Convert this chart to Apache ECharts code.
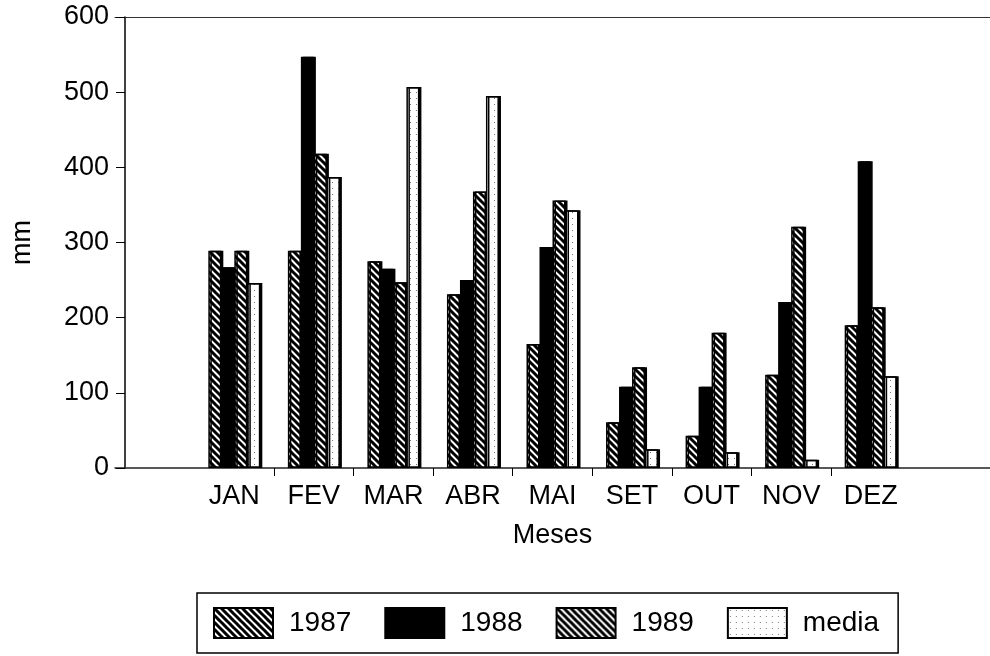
<!DOCTYPE html>
<html>
<head>
<meta charset="utf-8">
<script src="https://cdn.jsdelivr.net/npm/echarts@6/dist/echarts.min.js"></script>
<style>html,body{margin:0;padding:0;background:#fff;}#c{width:990px;height:656px;}</style>
</head>
<body>
<div id="c"></div>
<script>
const categories = ['JAN','FEV','MAR','ABR','MAI','SET','OUT','NOV','DEZ'];
const s1987 = [289,289,275,231,165,61,43,124,190];
const s1988 = [267,547,265,250,294,108,108,221,408];
const s1989 = [289,418,247,368,356,134,180,321,214];
const media = [246,387,507,495,343,25,21,11,122];
const yTickValues = [0,100,200,300,400,500,600];

function hatch(size, lw){
  const c = document.createElement('canvas');
  c.width = c.height = size;
  const g = c.getContext('2d');
  g.fillStyle = '#fff'; g.fillRect(0,0,size,size);
  g.strokeStyle = '#000'; g.lineWidth = lw;
  g.beginPath();
  for (const o of [-size, 0, size]) { g.moveTo(o-1, -1); g.lineTo(o+size+1, size+1); }
  g.stroke();
  return c;
}
function dots(){
  const c = document.createElement('canvas');
  c.width = c.height = 6;
  const g = c.getContext('2d');
  g.fillStyle = '#fff'; g.fillRect(0,0,6,6);
  g.fillStyle = '#777'; g.fillRect(2,2,1,1);
  return c;
}
const F = "'Liberation Sans', Arial, sans-serif";
const cats = [''].concat(categories, ['']);
const pad = a => [null].concat(a, [null]);

const baseStyle = {borderColor:'#000', borderWidth:1.5, shadowColor:'#000', shadowOffsetX:2, shadowOffsetY:0, shadowBlur:0};
function mk(name, data, color){
  return {name, type:'bar', data: pad(data), barWidth:13, barGap:'0%',
    itemStyle: Object.assign({color}, baseStyle)};
}
const chart = echarts.init(document.getElementById('c'), null, {renderer:'canvas'});
chart.setOption({
  animation:false,
  backgroundColor:'#fff',
  grid:{left:115, right:-9, top:17, bottom:188, containLabel:false},
  xAxis:[{
    type:'category', data:cats, boundaryGap:true,
    axisLine:{show:true, lineStyle:{color:'#222', width:1.5}},
    axisTick:{show:true, length:8, inside:false, interval:(i)=> i>=2 && i<=9, lineStyle:{color:'#000'}},
    axisLabel:{interval:0, color:'#000', fontSize:27, fontFamily:F, margin:15},
    name:'Meses', nameLocation:'middle', nameGap:54,
    nameTextStyle:{color:'#000', fontSize:27, fontFamily:F}
  },{
    type:'category', data:cats, position:'top',
    axisLine:{show:true, lineStyle:{color:'#333', width:1.2}},
    axisTick:{show:false}, axisLabel:{show:false}
  }],
  yAxis:{
    type:'value', min:0, max:600, interval:100, offset:-10,
    axisLine:{show:true, lineStyle:{color:'#000', width:1.5}},
    axisTick:{show:true, length:9, lineStyle:{color:'#000'}},
    splitLine:{show:false},
    axisLabel:{color:'#000', fontSize:27, fontFamily:F, margin:16,
      formatter:(v)=> yTickValues.includes(v) ? String(v) : ''},
    name:'mm', nameLocation:'middle', nameGap:89, nameRotate:90,
    nameTextStyle:{color:'#000', fontSize:27, fontFamily:F}
  },
  legend:{
    left:197, top:593, orient:'horizontal', icon:'rect',
    itemWidth:59, itemHeight:30, itemGap:33,
    padding:[14,19,14,16],
    borderColor:'#000', borderWidth:1.5,
    textStyle:{color:'#000', fontSize:28, fontFamily:F, padding:[0,0,0,11]},
    itemStyle:{shadowColor:'transparent', shadowOffsetX:0},
    data:['1987','1988','1989','media']
  },
  series:[
    mk('1987', s1987, {image:hatch(7,3), repeat:'repeat'}),
    mk('1988', s1988, '#000'),
    mk('1989', s1989, {image:hatch(7,3), repeat:'repeat'}),
    mk('media', media, {image:dots(), repeat:'repeat'})
  ]
});
</script>
</body>
</html>
